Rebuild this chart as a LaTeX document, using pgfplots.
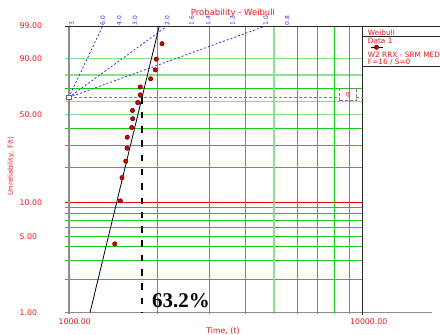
\documentclass[border=0pt]{standalone}
\usepackage{fontspec}
\setmainfont{DejaVu Sans}
\newfontfamily\timesb{Liberation Serif}
\usepackage{pgfplots}
\usepackage{pgfplotstable}
\pgfplotsset{compat=1.18}
\definecolor{rtxt}{RGB}{235,25,25}
\definecolor{gdark}{RGB}{20,205,20}
\definecolor{glight}{RGB}{140,225,140}
\definecolor{bl}{RGB}{50,50,230}
\definecolor{dotred}{RGB}{215,0,0}
\definecolor{dotedge}{RGB}{90,0,0}
\newcommand\fs[1]{\fontsize{#1}{#1}\selectfont}
\pgfplotstableread{
x y
1433 -3.1322
1497 -2.2123
1517 -1.7155
1562 -1.3639
1578 -1.0855
1581 -0.8509
1637 -0.6441
1650 -0.4558
1647 -0.2796
1716 -0.1107
1751 0.0553
1751 0.2229
1899 0.3980
1969 0.5900
1985 0.8183
2076 1.1486
}\datatab
\tikzset{blab/.style={rotate=90, anchor=west, text=bl, font=\fs{6}, inner sep=0.6bp}}
\begin{document}
\begin{tikzpicture}
\useasboundingbox (-68.8bp,-22.5bp) rectangle (371.2bp,312.5bp);
\begin{axis}[
  at={(0,0)}, anchor=south west,
  scale only axis, width=293.9bp, height=286.5bp,
  xmode=log, xmin=1000, xmax=10000,
  ymin=-4.6001, ymax=1.5272,
  clip=false,
  axis line style={draw=none},
  major tick length=0pt, minor tick length=0pt,
  xtick={1000,10000}, xticklabels={1000.00,10000.00},
  minor xtick={},
  ytick={-4.6001,-2.9702,-2.2504,-0.3665,0.8340,1.5272},
  yticklabels={1.00,5.00,10.00,50.00,90.00,99.00},
  yticklabel style={anchor=west, inner sep=0pt, xshift=-49.3bp, font=\fs{7.8}, text=rtxt},
  xticklabel style={xshift=6bp, yshift=-3bp, font=\fs{7.8}, text=rtxt},
  legend style={at={(rel axis cs:1.0248,0.9257)}, anchor=west, draw=none, fill=none, inner sep=0pt, nodes={inner sep=0pt}},
  legend image code/.code={\draw[black, line width=0.7bp, solid] (0bp,0bp) -- (12bp,0bp); \draw[draw=dotedge, fill=dotred, line width=0.5bp, solid] plot[mark=*, mark size=2.2bp] coordinates {(6bp,0bp)};},
]
% horizontal grid (dark)
\pgfplotsinvokeforeach{-3.9019,-3.4914,-3.1985,-2.9702,-2.7826,-2.6232,-2.4843,-2.3612,-1.4999,-1.0309,-0.6717,0.1856}{
  \draw[gdark, line width=1bp] ([xshift=-4bp]axis cs:1000,#1) -- (axis cs:10000,#1);
}
% horizontal grid (light)
\pgfplotsinvokeforeach{-0.3665,-0.0874,0.4759,0.8340}{
  \draw[glight, line width=1.7bp] ([xshift=-4bp]axis cs:1000,#1) -- (axis cs:10000,#1);
}
\draw[red, line width=1bp] ([xshift=-4bp]axis cs:1000,-2.2504) -- (axis cs:10000,-2.2504);
% vertical grid
\pgfplotsinvokeforeach{2000,3000,4000,6000,7000,8000,9000}{
  \draw[gdark, line width=1bp] (axis cs:#1,1.5272) -- ([yshift=-1.5bp]axis cs:#1,-4.6001);
}
\pgfplotsinvokeforeach{5000}{
  \draw[glight, line width=1.7bp] (axis cs:#1,1.5272) -- ([yshift=-1.5bp]axis cs:#1,-4.6001);
}
% axis frame
\draw[black!45, line width=1.8bp] (rel axis cs:0,1) -- ([yshift=-1.5bp]rel axis cs:0,0);
\draw[black!45, line width=1.8bp] ([xshift=-4bp]rel axis cs:0,0) -- ([xshift=363bp]rel axis cs:0,0);
\draw[black!85, line width=0.9bp] ([xshift=-4bp]rel axis cs:0,1) -- ([xshift=372bp]rel axis cs:0,1);
\draw[black!85, line width=0.9bp] (rel axis cs:1,1) -- ([yshift=-2.5bp]rel axis cs:1,0);
\draw[black!85, line width=0.9bp] ([yshift=-10bp]rel axis cs:1,1) -- ([xshift=78bp,yshift=-10bp]rel axis cs:1,1);
\draw[black!85, line width=0.9bp] ([yshift=-40bp]rel axis cs:1,1) -- ([xshift=78bp,yshift=-40bp]rel axis cs:1,1);
% beta scale
\addplot[bl, line width=0.8bp, dash pattern=on 2bp off 2bp] coordinates {(1000,0) (1304,1.5272)};
\addplot[bl, line width=0.8bp, dash pattern=on 2bp off 2bp] coordinates {(1000,0) (2163,1.5272)};
\addplot[bl, line width=0.8bp, dash pattern=on 2bp off 2bp] coordinates {(1000,0) (4677,1.5272)};
\node[blab] at (axis cs:1023,1.5272) {3};
\node[blab] at (axis cs:1304,1.5272) {6.0};
\node[blab] at (axis cs:1485,1.5272) {4.0};
\node[blab] at (axis cs:1680,1.5272) {3.0};
\node[blab] at (axis cs:2163,1.5272) {2.0};
\node[blab] at (axis cs:2619,1.5272) {1.6};
\node[blab] at (axis cs:2983,1.5272) {1.4};
\node[blab] at (axis cs:3600,1.5272) {1.2};
\node[blab] at (axis cs:4677,1.5272) {1.0};
\node[blab] at (axis cs:5540,1.5272) {0.8};
% eta line
\draw[black!50, line width=0.9bp, dash pattern=on 3bp off 2bp] (axis cs:1000,0) -- (axis cs:8325,0);
\draw[black!50, line width=0.9bp, dash pattern=on 3bp off 2bp] (axis cs:9489,0) -- (axis cs:10000,0);
\draw[black!50, line width=0.8bp, dash pattern=on 3bp off 2bp] (axis cs:8325,-0.070) rectangle (axis cs:9489,0.195);
\node[text=rtxt, font=\fs{7}, inner sep=0pt] at (axis cs:8890,0.05) {η};
\draw[black!60, line width=0.8bp, fill=white] ([xshift=-2.5bp,yshift=-2bp]axis cs:1000,0) rectangle ([xshift=2.5bp,yshift=2bp]axis cs:1000,0);
\draw[black, line width=2bp, dash pattern=on 6.5bp off 7.8bp] (axis cs:1770,0) -- (axis cs:1770,-4.6001);
% fit line
\addplot[black, line width=0.8bp] coordinates {(1181,-4.6001) (2032,1.5272)};
% data
\addplot[only marks, mark=*, mark size=2.2bp, mark options={fill=dotred, draw=dotedge, line width=0.5bp}] table[x=x, y=y] {\datatab};
\addlegendentry{}
\end{axis}
\node[text=rtxt, font=\fs{8.5}] at (164.2bp,299.5bp) {Probability - Weibull};
\node[rotate=90, text=rtxt, font=\fs{7}] at (-57.8bp,146.5bp) {Unreliability, F(t)};
\node[text=rtxt, font=\fs{7.8}] at (154.2bp,-19bp) {Time, (t)};
\node[anchor=base, font=\timesb\bfseries\fs{21}] at (112.2bp,5.1bp) {63.2\%};
\node[anchor=west, inner sep=0pt, text=rtxt, font=\fs{7.4}] at (298.9bp,279.5bp) {Weibull};
\node[anchor=west, inner sep=0pt, text=rtxt, font=\fs{7.4}] at (298.9bp,271.7bp) {Data 1};
\node[anchor=west, inner sep=0pt, text=rtxt, font=\fs{7.4}] at (298.9bp,257.5bp) {W2 RRX - SRM MED};
\node[anchor=west, inner sep=0pt, text=rtxt, font=\fs{7.4}] at (298.9bp,250bp) {F=16 / S=0};
\end{tikzpicture}
\end{document}
